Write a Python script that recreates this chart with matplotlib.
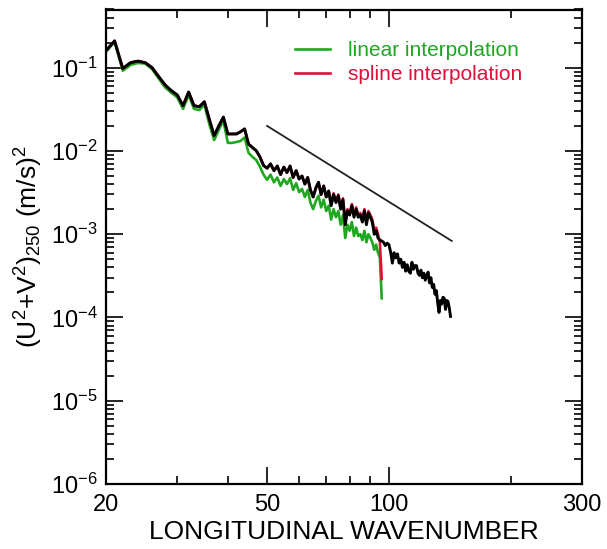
import matplotlib
matplotlib.use("Agg")
import matplotlib.pyplot as plt
from matplotlib.ticker import FixedLocator, NullFormatter

plt.rcParams['font.family'] = ['Liberation Sans', 'DejaVu Sans']
plt.rcParams['mathtext.fontset'] = 'custom'
plt.rcParams['mathtext.rm'] = 'Liberation Sans'
plt.rcParams['mathtext.it'] = 'Liberation Sans:italic'
plt.rcParams['mathtext.bf'] = 'Liberation Sans:bold'

# ---- data ----
k_black = list(range(20, 143))
black = [0.16, 0.21, 0.098, 0.115, 0.12, 0.115, 0.10, 0.078, 0.062, 0.053,
         0.047, 0.035, 0.051, 0.035, 0.034, 0.039, 0.024, 0.0153, 0.020, 0.0255,
         0.016, 0.016, 0.016, 0.017, 0.0184, 0.0121, 0.011, 0.0101, 0.0085, 0.0067,
         0.0062, 0.0070, 0.0058, 0.0066, 0.0052, 0.0064, 0.0055, 0.0066, 0.0048, 0.0058,
         0.0046, 0.0050, 0.0040, 0.0048, 0.0034, 0.0028, 0.0036, 0.0042, 0.0030, 0.0038,
         0.0028, 0.0033, 0.0022, 0.0030, 0.0024, 0.0029, 0.0020, 0.0026, 0.0013, 0.0019,
         0.0017, 0.0022, 0.0016, 0.0020, 0.0016, 0.0017, 0.0014, 0.0019, 0.0013, 0.0018,
         0.0016, 0.0014, 0.0010, 0.0011, 0.0009, 0.00085, 0.00083, 0.00080, 0.00073, 0.00078,
         0.00075, 0.00061, 0.00045, 0.00060, 0.00052, 0.00058, 0.00045, 0.00050, 0.00040, 0.00046,
         0.00036, 0.00043, 0.00036, 0.00034, 0.00046, 0.00038, 0.00042, 0.00042, 0.00034, 0.00032,
         0.00037, 0.00030, 0.00034, 0.00028, 0.00032, 0.00035, 0.00026, 0.00030, 0.00023, 0.00025,
         0.00019, 0.00021, 0.00015, 0.000115, 0.00016, 0.000145, 0.000175, 0.00017, 0.000125, 0.00016,
         0.000155, 0.00013, 0.000103]

k_interp = list(range(20, 97))
linear = [0.155, 0.205, 0.092, 0.108, 0.114, 0.112, 0.096, 0.074, 0.058, 0.050,
          0.044, 0.032, 0.047, 0.032, 0.031, 0.036, 0.021, 0.0135, 0.018, 0.023,
          0.0125, 0.0125, 0.0128, 0.0132, 0.0145, 0.0095, 0.0085, 0.0078, 0.0065, 0.0052,
          0.0045, 0.0052, 0.0042, 0.0048, 0.0038, 0.0046, 0.0040, 0.0047, 0.0034, 0.0041,
          0.0032, 0.0035, 0.0028, 0.0034, 0.0024, 0.0020, 0.0025, 0.0029, 0.0021, 0.0026,
          0.0019, 0.0022, 0.0015, 0.0020, 0.0016, 0.0019, 0.0013, 0.0017, 0.0009, 0.0013,
          0.0011, 0.0014, 0.00095, 0.0012, 0.00095, 0.0010, 0.00085, 0.0011, 0.0008, 0.0010,
          0.0009, 0.0008, 0.00065, 0.00075, 0.0006, 0.00052, 0.00017]
spline = [0.16, 0.21, 0.098, 0.115, 0.12, 0.115, 0.10, 0.078, 0.062, 0.053,
          0.047, 0.035, 0.051, 0.035, 0.034, 0.039, 0.024, 0.0153, 0.020, 0.0255,
          0.016, 0.016, 0.016, 0.017, 0.0184, 0.0121, 0.011, 0.0101, 0.0085, 0.0067,
          0.0062, 0.0070, 0.0058, 0.0066, 0.0052, 0.0064, 0.0055, 0.0066, 0.0048, 0.0058,
          0.0046, 0.0050, 0.0040, 0.0048, 0.0034, 0.0028, 0.0036, 0.0042, 0.0030, 0.0038,
          0.0028, 0.0033, 0.0023, 0.0031, 0.0025, 0.0030, 0.0021, 0.0027, 0.0014, 0.0020,
          0.0018, 0.0023, 0.0017, 0.0021, 0.0017, 0.0018, 0.0015, 0.0020, 0.0014, 0.0019,
          0.0017, 0.0015, 0.0011, 0.0012, 0.0010, 0.00080, 0.00029]

ref_k = [50, 143]
ref_v = [0.02, 0.00083]

xticks_major = [20, 50, 100, 300]
xticks_minor = [30, 40, 60, 70, 80, 90, 200]
yticks_major = [1e-6, 1e-5, 1e-4, 1e-3, 1e-2, 1e-1]
ytick_labels = ['$10^{-6}$', '$10^{-5}$', '$10^{-4}$', '$10^{-3}$', '$10^{-2}$', '$10^{-1}$']

green = '#1fa81f'
red = '#e0103a'

fig = plt.figure(figsize=(6.07, 5.49), dpi=100)
ax = fig.add_axes([106/607, 1-484/549, 476/607, 474.5/549])
ax.set_xscale('log')
ax.set_yscale('log')

ax.plot(k_interp, linear, color=green, lw=1.9, label='linear interpolation')
ax.plot(k_interp, spline, color=red, lw=1.9, label='spline interpolation')
ax.plot(k_black, black, color='black', lw=2.1)
ax.plot(ref_k, ref_v, color='#222222', lw=1.3)

ax.set_xlim(20, 300)
ax.set_ylim(1e-6, 0.5)

ax.xaxis.set_major_locator(FixedLocator(xticks_major))
ax.xaxis.set_minor_locator(FixedLocator(xticks_minor))
ax.set_xticklabels([str(v) for v in xticks_major])
ax.xaxis.set_minor_formatter(NullFormatter())
ax.yaxis.set_major_locator(FixedLocator(yticks_major))
ax.yaxis.set_minor_locator(FixedLocator([m * 10.0**e for e in range(-6, 0) for m in range(2, 10)]))
ax.set_yticklabels(ytick_labels)
ax.yaxis.set_minor_formatter(NullFormatter())

ax.tick_params(which='both', direction='in', top=True, right=True, width=1.2, labelsize=17)
ax.tick_params(which='major', length=12)
ax.tick_params(which='minor', length=6)
ax.tick_params(axis='x', which='major', pad=7)
ax.tick_params(axis='y', which='major', pad=6)
for s in ax.spines.values():
    s.set_linewidth(1.6)

ax.set_xlabel('LONGITUDINAL WAVENUMBER', fontsize=19, labelpad=3)
ax.set_ylabel('(U$^2$+V$^2$)$_{250}$ (m/s)$^2$', fontsize=19, labelpad=4)

leg = ax.legend(loc='upper left', bbox_to_anchor=(0.397, 0.934), frameon=False,
                fontsize=15, handlelength=1.7, handletextpad=0.85, labelspacing=0.25,
                borderpad=0, borderaxespad=0, labelcolor='linecolor')

fig.savefig('out.png', dpi=100)
